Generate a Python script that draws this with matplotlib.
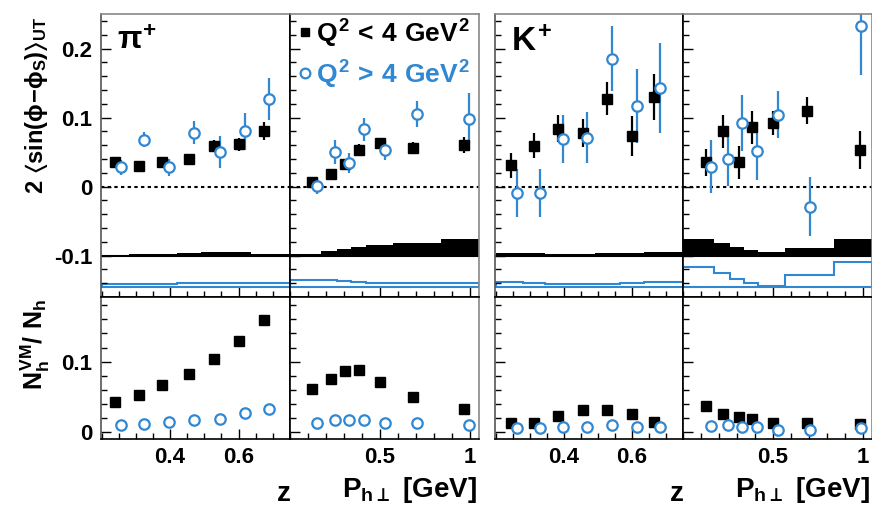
import matplotlib
matplotlib.use("Agg")
import matplotlib.pyplot as plt
from matplotlib.ticker import MultipleLocator, FixedLocator, NullFormatter

plt.rcParams["font.family"] = ["Liberation Sans", "DejaVu Sans"]
plt.rcParams["font.weight"] = "bold"
plt.rcParams["mathtext.fontset"] = "custom"
plt.rcParams["mathtext.rm"] = "Liberation Sans:bold"
plt.rcParams["mathtext.it"] = "Liberation Sans:bold"
plt.rcParams["mathtext.bf"] = "Liberation Sans:bold"
plt.rcParams["mathtext.sf"] = "Liberation Sans:bold"
plt.rcParams["mathtext.fallback"] = "stixsans"

BLUE = "#3087d2"

# ---- pi+ vs z ----
pip_z_x_lo = [0.239, 0.310, 0.377, 0.454, 0.529, 0.600, 0.673]
pip_z_a_lo = [0.036, 0.030, 0.035, 0.040, 0.059, 0.061, 0.081]
pip_z_e_lo = [0.006, 0.005, 0.006, 0.006, 0.008, 0.010, 0.013]
pip_z_x_hi = [0.256, 0.324, 0.397, 0.470, 0.546, 0.618, 0.689]
pip_z_a_hi = [0.028, 0.068, 0.028, 0.078, 0.050, 0.080, 0.127]
pip_z_e_hi = [0.011, 0.011, 0.012, 0.017, 0.023, 0.027, 0.030]
pip_z_vm_lo = [0.043, 0.052, 0.066, 0.082, 0.103, 0.129, 0.159]
pip_z_vm_hi = [0.010, 0.011, 0.014, 0.017, 0.018, 0.026, 0.033]

# ---- pi+ vs Pt ----
pip_pt_x_lo = [0.124, 0.226, 0.306, 0.383, 0.498, 0.683, 0.967]
pip_pt_a_lo = [0.006, 0.018, 0.032, 0.053, 0.063, 0.056, 0.060]
pip_pt_e_lo = [0.006, 0.006, 0.007, 0.008, 0.008, 0.008, 0.012]
pip_pt_x_hi = [0.152, 0.250, 0.328, 0.411, 0.526, 0.708, 0.994]
pip_pt_a_hi = [0.001, 0.050, 0.034, 0.083, 0.053, 0.105, 0.098]
pip_pt_e_hi = [0.012, 0.017, 0.015, 0.017, 0.015, 0.019, 0.037]
pip_pt_vm_lo = [0.061, 0.075, 0.087, 0.088, 0.071, 0.049, 0.033]
pip_pt_vm_hi = [0.013, 0.017, 0.017, 0.017, 0.013, 0.013, 0.009]

# ---- K+ vs z ----
kp_z_x_lo = [0.244, 0.313, 0.381, 0.456, 0.527, 0.599, 0.666]
kp_z_a_lo = [0.031, 0.059, 0.084, 0.078, 0.127, 0.073, 0.130]
kp_z_e_lo = [0.018, 0.018, 0.019, 0.020, 0.024, 0.029, 0.033]
kp_z_x_hi = [0.261, 0.328, 0.398, 0.469, 0.542, 0.615, 0.682]
kp_z_a_hi = [-0.009, -0.009, 0.069, 0.071, 0.185, 0.117, 0.143]
kp_z_e_hi = [0.035, 0.035, 0.035, 0.037, 0.047, 0.054, 0.065]
kp_z_vm_lo = [0.013, 0.013, 0.022, 0.031, 0.031, 0.025, 0.014]
kp_z_vm_hi = [0.005, 0.005, 0.006, 0.006, 0.009, 0.007, 0.006]

# ---- K+ vs Pt ----
kp_pt_x_lo = [0.127, 0.224, 0.310, 0.384, 0.500, 0.688, 0.985]
kp_pt_a_lo = [0.035, 0.080, 0.035, 0.086, 0.092, 0.110, 0.053]
kp_pt_e_lo = [0.020, 0.024, 0.024, 0.024, 0.017, 0.020, 0.028]
kp_pt_x_hi = [0.154, 0.252, 0.329, 0.412, 0.528, 0.710, 0.994]
kp_pt_a_hi = [0.029, 0.040, 0.092, 0.052, 0.104, -0.029, 0.232]
kp_pt_e_hi = [0.038, 0.039, 0.040, 0.042, 0.034, 0.043, 0.070]
kp_pt_vm_lo = [0.037, 0.025, 0.021, 0.018, 0.013, 0.012, 0.011]
kp_pt_vm_hi = [0.008, 0.009, 0.007, 0.006, 0.003, 0.002, 0.005]

# systematic bands (bin edges + band tops)
z_edges = [0.2, 0.28, 0.345, 0.42, 0.49, 0.565, 0.635, 0.75]
pt_edges = [0.0, 0.17, 0.26, 0.34, 0.42, 0.57, 0.84, 1.05]
pip_z_sys_lo = [-0.099, -0.098, -0.097, -0.096, -0.095, -0.095, -0.097]
pip_z_sys_hi = [-0.141, -0.141, -0.141, -0.140, -0.139, -0.139, -0.140]
pip_pt_sys_lo = [-0.097, -0.094, -0.091, -0.088, -0.085, -0.082, -0.076]
pip_pt_sys_hi = [-0.135, -0.136, -0.137, -0.138, -0.139, -0.140, -0.140]
kp_z_sys_lo = [-0.096, -0.096, -0.097, -0.097, -0.096, -0.096, -0.095]
kp_z_sys_hi = [-0.138, -0.140, -0.141, -0.141, -0.141, -0.139, -0.138]
kp_pt_sys_lo = [-0.076, -0.082, -0.087, -0.092, -0.095, -0.089, -0.076]
kp_pt_sys_hi = [-0.116, -0.125, -0.134, -0.140, -0.144, -0.128, -0.109]
SYS_BASE_LO = -0.1
SYS_BASE_HI = -0.145

W, H = 872, 511
fig = plt.figure(figsize=(W / 100, H / 100), dpi=100)


def add_panel(l, t, r, b):
    return fig.add_axes([l / W, 1 - b / H, (r - l) / W, (b - t) / H])


def style(ax, outer_left=False, outer_right=False, top_row=False):
    ax.tick_params(which="both", direction="in", top=False, right=False,
                   labelsize=16, pad=6)
    ax.tick_params(which="major", length=7, width=1)
    ax.tick_params(which="minor", length=4, width=1)
    for s in ax.spines.values():
        s.set_linewidth(1.2)
        s.set_color("black")
    if top_row:
        ax.spines["top"].set_color("#888888")
    if outer_left:
        ax.spines["left"].set_color("#555555")
    if outer_right:
        ax.spines["right"].set_color("#888888")


def zero_fmt(v, p):
    return "0" if abs(v) < 1e-9 else f"{v:g}"


xs = [(100.5, 290), (290, 479), (495, 683), (683, 871.5)]
top_t, mid, bot_b = 14, 297, 439

groups = [
    (pip_z_x_lo, pip_z_a_lo, pip_z_e_lo, pip_z_x_hi, pip_z_a_hi, pip_z_e_hi,
     pip_z_vm_lo, pip_z_vm_hi, z_edges, pip_z_sys_lo, pip_z_sys_hi, "z"),
    (pip_pt_x_lo, pip_pt_a_lo, pip_pt_e_lo, pip_pt_x_hi, pip_pt_a_hi, pip_pt_e_hi,
     pip_pt_vm_lo, pip_pt_vm_hi, pt_edges, pip_pt_sys_lo, pip_pt_sys_hi, "pt"),
    (kp_z_x_lo, kp_z_a_lo, kp_z_e_lo, kp_z_x_hi, kp_z_a_hi, kp_z_e_hi,
     kp_z_vm_lo, kp_z_vm_hi, z_edges, kp_z_sys_lo, kp_z_sys_hi, "z"),
    (kp_pt_x_lo, kp_pt_a_lo, kp_pt_e_lo, kp_pt_x_hi, kp_pt_a_hi, kp_pt_e_hi,
     kp_pt_vm_lo, kp_pt_vm_hi, pt_edges, kp_pt_sys_lo, kp_pt_sys_hi, "pt"),
]

top_axes = []
for i, ((l, r), g) in enumerate(zip(xs, groups)):
    (xlo, alo, elo, xhi, ahi, ehi, vlo, vhi, edges, slo, shi, kind) = g
    ax = add_panel(l, top_t, r, mid)
    axb = add_panel(l, mid, r, bot_b)
    top_axes.append(ax)

    # asymmetry panel
    ax.stairs(slo, edges, baseline=SYS_BASE_LO, fill=True, color="black", lw=0)
    ax.axhline(SYS_BASE_LO, color="black", lw=1.5)
    ax.stairs(shi, edges, baseline=SYS_BASE_HI, fill=False, color=BLUE, lw=1.5)
    ax.axhline(SYS_BASE_HI, color=BLUE, lw=1.5)
    ax.axhline(0, color="black", lw=1.5, ls=(0, (1.6, 1.6)))
    ax.errorbar(xlo, alo, yerr=elo, fmt="s", ms=6.5, color="black",
                elinewidth=1.6, capsize=0)
    ax.errorbar(xhi, ahi, yerr=ehi, fmt="o", ms=7.5, color=BLUE, mfc="white",
                mec=BLUE, mew=1.6, elinewidth=1.6, capsize=0)
    ax.set_ylim(-0.16, 0.25)
    ax.yaxis.set_major_locator(MultipleLocator(0.1))
    ax.yaxis.set_minor_locator(MultipleLocator(0.02))
    ax.yaxis.set_major_formatter(zero_fmt)

    # VM fraction panel
    axb.plot(xlo, vlo, "s", ms=6.5, color="black")
    axb.plot(xhi, vhi, "o", ms=7.5, color=BLUE, mfc="white", mec=BLUE, mew=1.6)
    axb.set_ylim(-0.0104, 0.192)
    axb.yaxis.set_major_locator(MultipleLocator(0.1))
    axb.yaxis.set_minor_locator(MultipleLocator(0.02))
    axb.yaxis.set_major_formatter(zero_fmt)

    for a in (ax, axb):
        if kind == "z":
            a.set_xlim(0.197, 0.75)
            a.xaxis.set_major_locator(FixedLocator([0.4, 0.6]))
            a.xaxis.set_minor_locator(MultipleLocator(0.05))
        else:
            a.set_xlim(0.0, 1.05)
            a.xaxis.set_major_locator(FixedLocator([0.5, 1.0]))
            a.xaxis.set_minor_locator(MultipleLocator(0.1))
        a.xaxis.set_major_formatter(lambda v, p: f"{v:g}")
        if i != 0:
            a.yaxis.set_major_formatter(NullFormatter())
    ax.xaxis.set_major_formatter(NullFormatter())
    style(ax, outer_left=(kind == "z"), outer_right=(kind == "pt"), top_row=True)
    style(axb, outer_left=(kind == "z"), outer_right=(kind == "pt"))

# hadron labels
top_axes[0].text(0.085, 0.955, r"$\pi^{+}$", transform=top_axes[0].transAxes,
                 fontsize=23, va="top", ha="left")
top_axes[2].text(0.085, 0.955, r"$K^{+}$", transform=top_axes[2].transAxes,
                 fontsize=24, va="top", ha="left")

# legend in pi+ Pt panel
lg = top_axes[1]
lg.plot([0.079], [0.937], "s", ms=6, color="black", transform=lg.transAxes)
lg.text(0.14, 0.93, r"$Q^2\,<\,4\ GeV^2$", transform=lg.transAxes,
        fontsize=19, va="center", ha="left", color="black")
lg.plot([0.079], [0.793], "o", ms=7, color=BLUE, mfc="white", mec=BLUE,
        mew=1.6, transform=lg.transAxes)
lg.text(0.14, 0.786, r"$Q^2\,>\,4\ GeV^2$", transform=lg.transAxes,
        fontsize=19, va="center", ha="left", color=BLUE)

# axis titles
fig.text(37 / W, 1 - 105 / H, r"$2\ \langle sin(\phi\!-\!\phi_S)\rangle_{UT}$",
         rotation=90, fontsize=17, ha="center", va="center")
fig.text(35 / W, 1 - 345 / H, r"$N_h^{VM} / \ N_h$",
         rotation=90, fontsize=18, ha="center", va="center")
for zx, px in [(284, 477), (677, 870)]:
    fig.text(zx / W, 1 - 494 / H, "z", fontsize=20, ha="center", va="center")
    fig.text(px / W, 1 - 490 / H, r"$P_{h\bot}$ [GeV]", fontsize=20,
             ha="right", va="center")

fig.savefig("out.png", dpi=100)
